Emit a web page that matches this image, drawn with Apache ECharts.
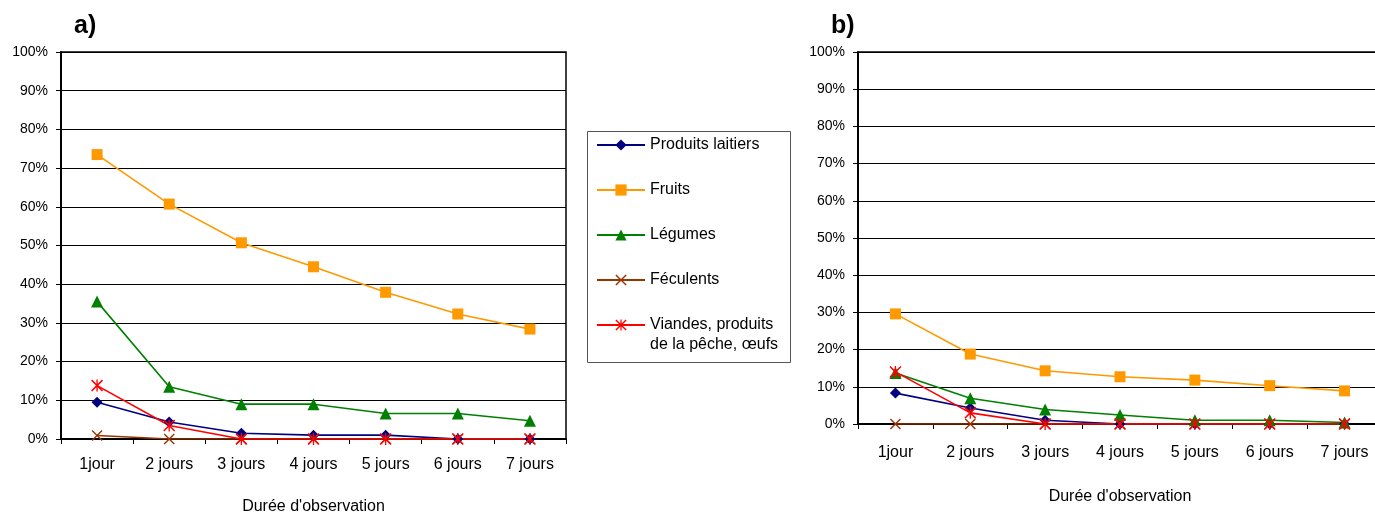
<!DOCTYPE html>
<html><head><meta charset="utf-8">
<script src="https://cdn.jsdelivr.net/npm/echarts@6/dist/echarts.min.js"></script>
<style>html,body{margin:0;padding:0;background:#fff;overflow:hidden}#c{width:1375px;height:512px}</style>
</head><body><div id="c"></div>
<script>
const categories = ['1jour', '2 jours', '3 jours', '4 jours', '5 jours', '6 jours', '7 jours'];
const seriesNames = ['Produits laitiers', 'Fruits', 'Légumes', 'Féculents', 'Viandes, produits de la pêche, œufs'];
const legendLine1 = 'Viandes, produits';
const legendLine2 = 'de la pêche, œufs';
const panelTitles = ['a)', 'b)'];
const axisTitle = "Durée d'observation";

// Panel a
const a_laitiers  = [9.5, 4.4, 1.5, 1.0, 1.0, 0, 0];
const a_fruits    = [73.5, 60.7, 50.7, 44.5, 37.9, 32.3, 28.4];
const a_legumes   = [35.5, 13.5, 9.0, 9.0, 6.6, 6.6, 4.7];
const a_feculents = [0.9, 0, 0, 0, 0, 0, 0];
const a_viandes   = [13.8, 3.5, 0, 0, 0, 0, 0];
// Panel b
const b_laitiers  = [8.3, 4.3, 1.0, 0, 0, 0, 0];
const b_fruits    = [29.6, 18.8, 14.3, 12.7, 11.8, 10.3, 8.9];
const b_legumes   = [13.7, 6.9, 3.9, 2.4, 1.0, 1.0, 0.4];
const b_feculents = [0, 0, 0, 0, 0, 0, 0];
const b_viandes   = [14.0, 3.0, 0, 0, 0, 0, 0];

const FONT = '"Liberation Sans", Arial, sans-serif';
const colors = ['#000080', '#FF9900', '#008000', '#993300', '#FF0000'];
const xPath = 'path://M0 0.9L0.9 0L10 9.1L9.1 10ZM9.1 0L10 0.9L0.9 10L0 9.1Z';
const starPath = 'path://M0 0.9L0.9 0L10 9.1L9.1 10ZM9.1 0L10 0.9L0.9 10L0 9.1ZM4.45 0L5.55 0L5.55 10L4.45 10Z';
const symbols = ['diamond', 'rect', 'triangle', xPath, starPath];
const sizes = [11, 11, 12, 11, 12];

const panels = [
  [a_laitiers, a_fruits, a_legumes, a_feculents, a_viandes],
  [b_laitiers, b_fruits, b_legumes, b_feculents, b_viandes]
];

const grids = [
  {left: 61, right: 809, top: 52, bottom: 73, show: true, borderColor: '#000', borderWidth: 1.5, outerBoundsMode: 'none', containLabel: false},
  {left: 858, right: -7, top: 52, bottom: 88, show: true, borderColor: '#000', borderWidth: 1.5, outerBoundsMode: 'none', containLabel: false}
];
const labelMargins = [18, 21];
const nameGaps = [60, 65];

const xAxes = grids.map((g, i) => ({
  type: 'category', gridIndex: i, data: categories, boundaryGap: true,
  axisLine: {lineStyle: {color: '#000', width: 2}},
  axisTick: {show: true, length: 5, lineStyle: {color: '#000'}},
  axisLabel: {color: '#000', fontFamily: FONT, fontSize: 16, margin: labelMargins[i]},
  name: axisTitle, nameLocation: 'middle', nameGap: nameGaps[i],
  nameTextStyle: {color: '#000', fontFamily: FONT, fontSize: 16}
}));

const yAxes = grids.map((g, i) => ({
  type: 'value', gridIndex: i, min: 0, max: 100, interval: 10,
  axisLine: {show: true, lineStyle: {color: '#000', width: 2}},
  axisTick: {show: true, length: 5, lineStyle: {color: '#000'}},
  axisLabel: {color: '#000', fontFamily: FONT, fontSize: 14, margin: 13, formatter: '{value}%'},
  splitLine: {show: true, lineStyle: {color: '#000', width: 1}}
}));

const series = [];
panels.forEach((p, pi) => {
  p.forEach((data, si) => {
    series.push({
      type: 'line', name: seriesNames[si], xAxisIndex: pi, yAxisIndex: pi,
      data: data, symbol: symbols[si], symbolSize: sizes[si], showSymbol: true,
      itemStyle: {color: colors[si]},
      lineStyle: {color: colors[si], width: 1.6},
      emphasis: {disabled: true}, animation: false
    });
  });
});

const chart = echarts.init(document.getElementById('c'), null, {renderer: 'canvas'});
chart.setOption({
  backgroundColor: '#fff',
  animation: false,
  grid: grids,
  xAxis: xAxes,
  yAxis: yAxes,
  series: series,
  legend: {
    orient: 'vertical', left: 591, top: 130,
    itemWidth: 48, itemHeight: 14, itemGap: 25,
    data: seriesNames,
    formatter: n => (n === seriesNames[4] ? legendLine1 : n),
    textStyle: {color: '#000', fontFamily: FONT, fontSize: 16, lineHeight: 20},
    selectedMode: false
  },
  graphic: [
    {type: 'rect', shape: {x: 587.5, y: 131.5, width: 203, height: 231}, style: {fill: 'none', stroke: '#555', lineWidth: 1}, z: -1},
    {type: 'text', x: 650, y: 345, style: {text: legendLine2, font: '16px ' + FONT, fill: '#000', verticalAlign: 'middle'}},
    {type: 'text', left: 74, top: 14, style: {text: panelTitles[0], font: 'bold 25px ' + FONT, fill: '#000'}},
    {type: 'text', left: 831, top: 14, style: {text: panelTitles[1], font: 'bold 25px ' + FONT, fill: '#000'}}
  ]
});
</script>
</body></html>
